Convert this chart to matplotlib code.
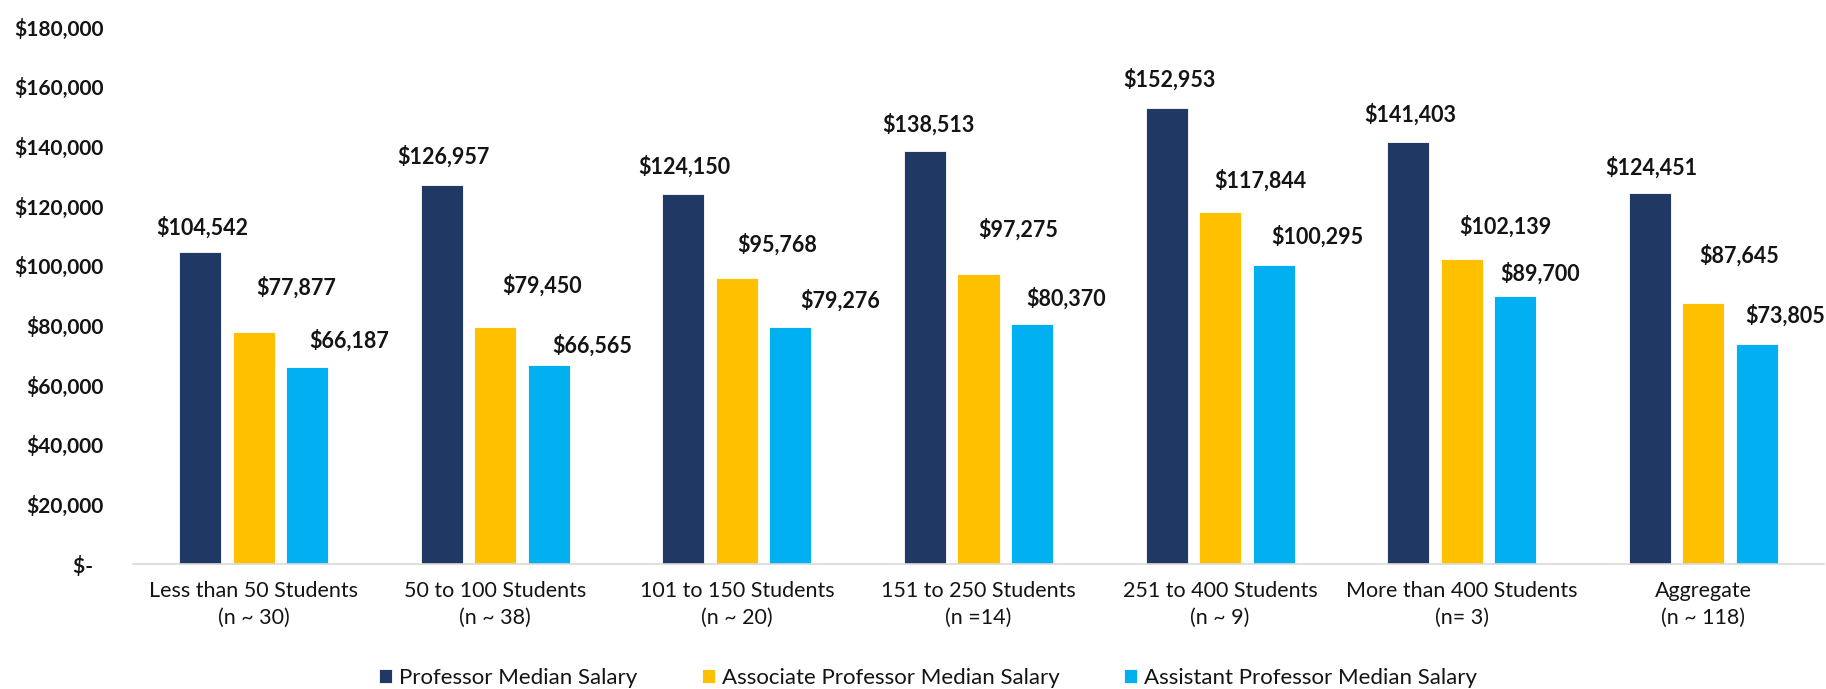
import numpy as np
import matplotlib
matplotlib.use("Agg")
import matplotlib.pyplot as plt

# Dane
categories = ['Less than 50 Students', '50 to 100 Students', '101 to 150 Students',
              '151 to 250 Students', '251 to 400 Students', 'More than 400 Students',
              'Aggregate']
group_sizes = ['(n ~ 30)', '(n ~ 38)', '(n ~ 20)', '(n =14)', '(n ~ 9)', '(n= 3)', '(n ~ 118)']
professor = [104542, 126957, 124150, 138513, 152953, 141403, 124451]
associate = [77877, 79450, 95768, 97275, 117844, 102139, 87645]
assistant = [66187, 66565, 79276, 80370, 100295, 89700, 73805]
series_names = ['Professor Median Salary', 'Associate Professor Median Salary',
                'Assistant Professor Median Salary']
y_ticks = list(range(0, 180001, 20000))

# Przesuniecia etykiet (w pikselach) - tak jak w oryginale
label_dx = [[2, 2, 1, 3, 3, 2, 2],
            [42, 47, 40, 40, 40, 44, 36],
            [42, 43, 50, 34, 44, 25, 28]]
label_dy = [[25, 29, 27, 26, 28, 28, 25],
            [44, 41, 34, 44, 32, 33, 47],
            [26, 20, 27, 26, 28, 23, 28]]

colors = ['#203864', '#FFC000', '#00B0F0']
text_color = '#141414'

plt.rcParams['font.family'] = ['Lato', 'DejaVu Sans']

W, H = 1826, 689
fig = plt.figure(figsize=(W / 100, H / 100), dpi=100)
ax = fig.add_axes([133 / W, 1 - 564 / H, (1824 - 133) / W, (564 - 27) / H])

x = np.arange(len(categories))
width = 0.174
step = 0.2215

all_series = [professor, associate, assistant]
for i, (vals, name, col) in enumerate(zip(all_series, series_names, colors)):
    bars = ax.bar(x + (i - 1) * step, vals, width, color=col, label=name,
                  edgecolor='white', linewidth=0.6)
    for j, b in enumerate(bars):
        ax.annotate(f'${vals[j]:,}',
                    (b.get_x() + b.get_width() / 2, b.get_height()),
                    xytext=(label_dx[i][j], label_dy[i][j]),
                    textcoords='offset pixels', ha='center', va='center',
                    fontsize=15.5, fontweight='bold', color=text_color)

ax.set_xlim(-0.5, len(categories) - 0.5)
ax.set_ylim(0, 180000)
ax.set_yticks(y_ticks)
ax.set_yticklabels(['$-  ' if v == 0 else f'${v:,}' for v in y_ticks],
                   fontsize=15, fontweight='bold', color=text_color)
ax.set_xticks(x)
ax.set_xticklabels([f'{c}\n{n}' for c, n in zip(categories, group_sizes)],
                   fontsize=15.5, color=text_color, linespacing=1.45)
ax.tick_params(axis='both', length=0)
ax.tick_params(axis='y', pad=21)
ax.tick_params(axis='x', pad=12)

for s in ['top', 'right', 'left']:
    ax.spines[s].set_visible(False)
ax.spines['bottom'].set_color('#d9d9d9')
ax.spines['bottom'].set_linewidth(1.2)

fig.legend(loc='center', bbox_to_anchor=(928 / W, 1 - 678 / H), ncol=3,
           frameon=False, fontsize=16, handlelength=0.6, handleheight=0.6,
           handletextpad=0.3, columnspacing=2.9, labelcolor=text_color)

fig.savefig('out.png', dpi=100)
